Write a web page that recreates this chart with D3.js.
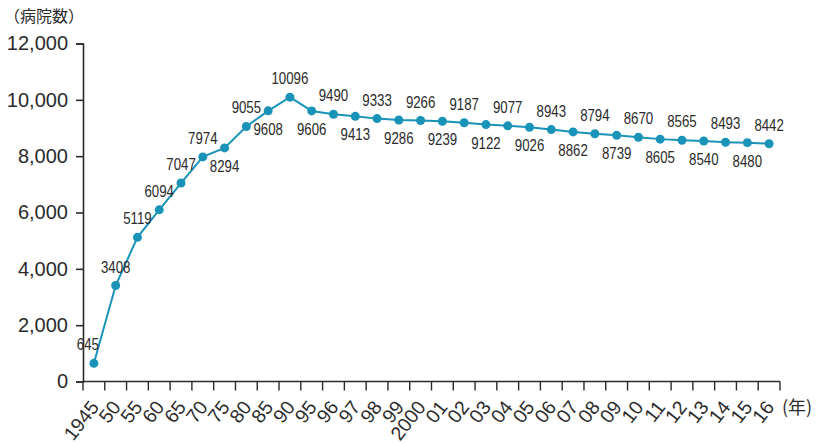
<!DOCTYPE html>
<html>
<head>
<meta charset="utf-8">
<script src="https://cdn.jsdelivr.net/npm/d3@7"></script>
<style>
  body { margin: 0; background: #fff; }
  svg { display: block; }
</style>
</head>
<body>
<div id="app"></div>
<script>
const years = ["1945", "50", "55", "60", "65", "70", "75", "80", "85", "90",
  "95", "96", "97", "98", "99", "2000", "01", "02", "03", "04", "05", "06",
  "07", "08", "09", "10", "11", "12", "13", "14", "15", "16"]
const hospitals = [645, 3408, 5119, 6094, 7047, 7974, 8294, 9055, 9608, 10096,
  9606, 9490, 9413, 9333, 9286, 9266, 9239, 9187, 9122, 9077, 9026, 8943,
  8862, 8794, 8739, 8670, 8605, 8565, 8540, 8493, 8480, 8442]
// label above (1) or below (-1) the point
const labelSide = [1, 1, 1, 1, 1, 1, -1, 1, -1, 1,
  -1, 1, -1, 1, -1, 1, -1, 1, -1, 1, -1, 1,
  -1, 1, -1, 1, -1, 1, -1, 1, -1, 1]
const yTicks = [0, 2000, 4000, 6000, 8000, 10000, 12000]

const W = 817, H = 443
const color = "#1a93b8"
const ink = "#2b2b2b"

const fx = d3.scaleBand()
  .domain(years)
  .range([83, 780])

const fy = d3.scaleLinear()
  .domain([0, 12000])
  .range([381.5, 43.5])

const svg = d3.select("#app").append("svg")
  .attr("width", W)
  .attr("height", H)

// y axis
const gy = svg.append("g")
  .attr("transform", "translate(83,0)")
  .call(d3.axisLeft(fy).tickValues(yTicks).tickSize(7).tickPadding(8)
    .tickFormat(d3.format(",")))
gy.select(".domain").attr("stroke", ink).attr("stroke-width", 1.6)
gy.selectAll(".tick line").attr("stroke", ink).attr("stroke-width", 1.6)
gy.selectAll(".tick text")
  .attr("fill", ink)
  .attr("font-family", "Liberation Sans, Arial, sans-serif")
  .attr("font-size", 20)

// x axis: line + boundary ticks
const gx = svg.append("g").attr("transform", `translate(0,${fy(0)})`)
gx.append("line")
  .attr("x1", fx.range()[0]).attr("x2", fx.range()[1])
  .attr("stroke", ink).attr("stroke-width", 1.6)
const bounds = years.map(d => fx(d)).concat([fx.range()[1]])
gx.selectAll("line.tk")
  .data(bounds)
  .join("line")
    .attr("class", "tk")
    .attr("x1", d => d).attr("x2", d => d)
    .attr("y1", 0).attr("y2", 9)
    .attr("stroke", ink).attr("stroke-width", 1.4)

gx.selectAll("text.yr")
  .data(years)
  .join("text")
    .attr("class", "yr")
    .attr("transform", d => `translate(${fx(d) + fx.bandwidth() / 2 + 6},${26}) rotate(-52)`)
    .attr("text-anchor", "end")
    .attr("font-family", "Liberation Sans, Arial, sans-serif")
    .attr("font-size", 19.5)
    .attr("fill", ink)
    .text(d => d)

// line
const cx = d => fx(d) + fx.bandwidth() / 2
const line = d3.line()
  .x((d, i) => cx(years[i]))
  .y(d => fy(d))
svg.append("path")
  .datum(hospitals)
  .attr("fill", "none")
  .attr("stroke", color)
  .attr("stroke-width", 2)
  .attr("d", line)

svg.append("g")
  .selectAll("circle")
  .data(hospitals)
  .join("circle")
    .attr("cx", (d, i) => cx(years[i]))
    .attr("cy", d => fy(d))
    .attr("r", 4.5)
    .attr("fill", color)

// value labels
svg.append("g")
  .selectAll("text")
  .data(hospitals)
  .join("text")
    .attr("transform", (d, i) => {
      const x = cx(years[i]) - (i === 0 ? 6 : 0)
      const y = fy(d) + (labelSide[i] > 0 ? -13 : 24)
      return `translate(${x},${y}) scale(0.78,1)`
    })
    .attr("text-anchor", "middle")
    .attr("font-family", "Liberation Sans, Arial, sans-serif")
    .attr("font-size", 17)
    .attr("fill", ink)
    .text(d => d)

// unit labels
svg.append("text")
  .attr("x", 4).attr("y", 22)
  .attr("font-family", "Noto Sans CJK JP, sans-serif")
  .attr("font-size", 16)
  .attr("fill", ink)
  .text("（病院数）")
svg.append("text")
  .attr("x", 782).attr("y", 414)
  .attr("font-family", "Noto Sans CJK JP, sans-serif")
  .attr("font-size", 18)
  .attr("fill", ink)
  .text("(年)")
</script>
</body>
</html>
